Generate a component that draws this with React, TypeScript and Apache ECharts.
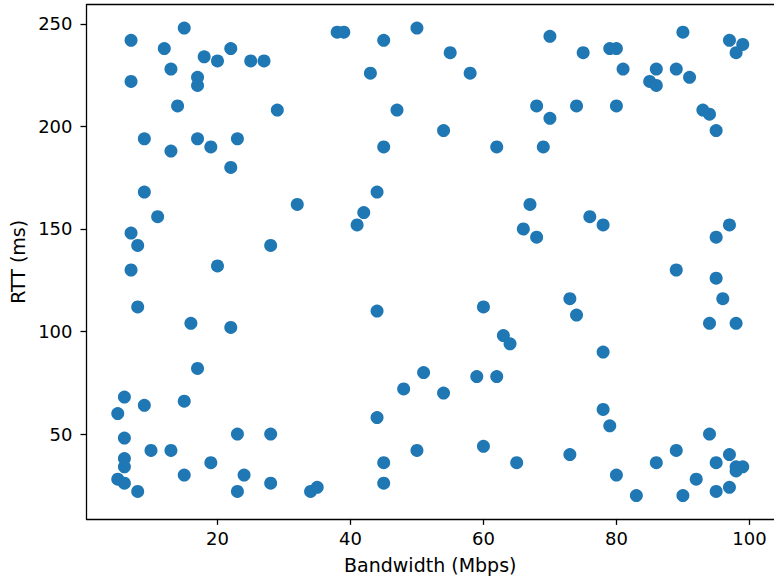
import React, { useEffect, useRef } from "react";
import * as echarts from "echarts";

// Bandwidth (Mbps) of each measured link
const bandwidth: number[] = [
  7, 15, 12, 18, 20, 22, 25, 27, 13, 7, 17, 17, 14, 29, 9, 17, 23, 13, 19, 22, 9, 32, 11, 7, 8, 28,
  38, 39, 45, 50, 55, 43, 58, 47, 68, 54, 45, 62, 69, 44, 42, 41, 67, 66, 68,
  70, 75, 79, 80, 81, 90, 97, 99, 98, 86, 89, 91, 85, 86, 74, 80, 70, 93, 94, 95, 76, 78, 95, 97,
  7, 20, 8, 16, 22, 17, 6, 9, 15, 5, 6, 23, 28, 10, 13, 6, 6, 19, 5, 6, 15, 24, 28, 8, 23, 34, 35,
  44, 60, 63, 64, 51, 48, 54, 59, 62, 44, 60, 45, 50, 65, 45,
  89, 95, 96, 94, 98, 73, 74, 78, 78, 79, 94, 73, 89, 97, 86, 95, 98, 99, 98, 80, 92, 97, 95, 83, 90,
];

// Round-trip time (ms) for the same links, in the same order
const rtt: number[] = [
  242, 248, 238, 234, 232, 238, 232, 232, 228, 222, 224, 220, 210, 208, 194, 194, 194, 188, 190, 180, 168, 162, 156, 148, 142, 142,
  246, 246, 242, 248, 236, 226, 226, 208, 210, 198, 190, 190, 190, 168, 158, 152, 162, 150, 146,
  244, 236, 238, 238, 228, 246, 242, 240, 236, 228, 228, 224, 222, 220, 210, 210, 204, 208, 206, 198, 156, 152, 146, 152,
  130, 132, 112, 104, 102, 82, 68, 64, 66, 60, 48, 50, 50, 42, 42, 38, 34, 36, 28, 26, 30, 30, 26, 22, 22, 22, 24,
  110, 112, 98, 94, 80, 72, 70, 78, 78, 58, 44, 36, 42, 36, 26,
  130, 126, 116, 104, 104, 116, 108, 90, 62, 54, 50, 40, 42, 40, 36, 36, 34, 34, 32, 30, 28, 24, 22, 20, 20,
];

const xTicks: number[] = [20, 40, 60, 80, 100];
const yTicks: number[] = [50, 100, 150, 200, 250];

const FONT = "DejaVu Sans";

export default function App() {
  const ref = useRef<HTMLDivElement>(null);

  useEffect(() => {
    if (!ref.current) return;
    const chart = echarts.init(ref.current, undefined, { renderer: "svg" });
    const points = bandwidth.map((b, i) => [b, rtt[i]]);

    const axisCommon = {
      type: "value" as const,
      splitLine: { show: false },
      axisLine: { show: true, onZero: false, lineStyle: { color: "#000", width: 1.3 } },
      axisTick: { show: true, inside: false, length: 6, lineStyle: { color: "#000", width: 1.3 } },
      nameLocation: "middle" as const,
      nameTextStyle: { fontFamily: FONT, fontSize: 19, color: "#000" },
    };

    chart.setOption({
      animation: false,
      backgroundColor: "#fff",
      grid: { left: 86.5, top: 4.7, right: -2.7, bottom: 62.1, containLabel: false, show: false },
      xAxis: [
        {
          ...axisCommon,
          min: 0.3,
          max: 103.7,
          name: "Bandwidth (Mbps)",
          nameGap: 37,
          axisTick: { ...axisCommon.axisTick, customValues: xTicks },
          axisLabel: { customValues: xTicks, fontFamily: FONT, fontSize: 18, color: "#000", margin: 11 },
        },
        {
          type: "value",
          position: "top",
          min: 0.3,
          max: 103.7,
          axisLine: { show: true, lineStyle: { color: "#000", width: 1.3 } },
          axisTick: { show: false },
          axisLabel: { show: false },
          splitLine: { show: false },
        },
      ],
      yAxis: [
        {
          ...axisCommon,
          min: 8.6,
          max: 259.4,
          name: "RTT (ms)",
          nameGap: 57,
          axisTick: { ...axisCommon.axisTick, customValues: yTicks },
          axisLabel: { customValues: yTicks, fontFamily: FONT, fontSize: 18, color: "#000", margin: 14 },
        },
      ],
      series: [
        {
          type: "scatter",
          data: points,
          symbol: "circle",
          symbolSize: 13,
          itemStyle: { color: "#1f77b4", opacity: 1 },
        },
      ],
    });

    return () => chart.dispose();
  }, []);

  return (
    <div
      ref={ref}
      style={{ position: "fixed", left: 0, top: 0, width: 774, height: 581, background: "#fff" }}
    />
  );
}
